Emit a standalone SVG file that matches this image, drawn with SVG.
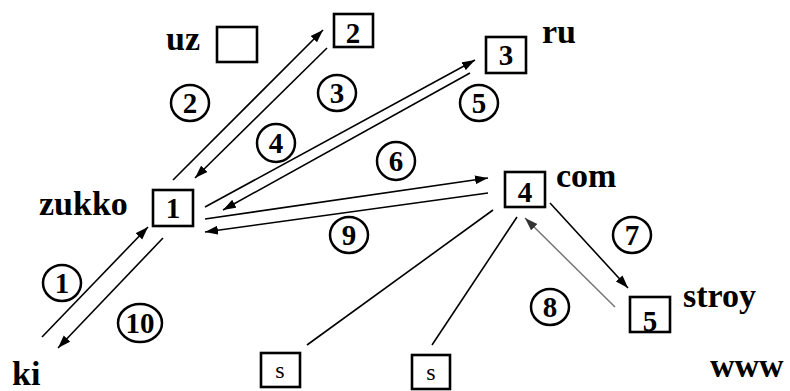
<svg xmlns="http://www.w3.org/2000/svg" width="790" height="391" viewBox="0 0 790 391" font-family="Liberation Serif, DejaVu Serif, serif">
<defs>
<style>
.box{fill:#fff;stroke:#000;stroke-width:2.6}
.lbl{font-weight:700;font-size:34px;fill:#000}
.num{font-weight:700;font-size:29px;fill:#000;text-anchor:middle}
.sm{font-size:24px;fill:#000;text-anchor:middle}
.circ{fill:none;stroke:#000;stroke-width:2.5}
.ln{stroke:#000;stroke-width:1.6;fill:none}
.arr{stroke:#000;stroke-width:1.6;fill:none;marker-end:url(#ah)}
.garr{stroke:#777;stroke-width:1.5;fill:none;marker-end:url(#gah)}
</style>
<marker id="ah" markerUnits="userSpaceOnUse" markerWidth="14" markerHeight="10" refX="13" refY="5" orient="auto"><path d="M0,0.5 L13,5 L0,9.5 Z" fill="#000"/></marker>
<marker id="gah" markerUnits="userSpaceOnUse" markerWidth="14" markerHeight="10" refX="13" refY="5" orient="auto"><path d="M0,0.5 L13,5 L0,9.5 Z" fill="#333"/></marker>
</defs>
<rect width="790" height="391" fill="#fff"/>
<g id="connectors">
<line class="arr" x1="42" y1="337" x2="148" y2="227"/>
<line class="arr" x1="163" y1="238" x2="58" y2="348"/>
<line class="arr" x1="173" y1="180" x2="323" y2="30"/>
<line class="arr" x1="327" y1="48" x2="195" y2="178"/>
<line class="arr" x1="205" y1="207" x2="475" y2="60"/>
<line class="arr" x1="470" y1="73" x2="223" y2="210"/>
<line class="arr" x1="205" y1="219" x2="488" y2="178"/>
<line class="arr" x1="488" y1="193" x2="205" y2="232"/>
<line class="arr" x1="550" y1="203" x2="628" y2="288"/>
<line class="garr" x1="615" y1="307" x2="525" y2="218"/>
<line class="ln" x1="307" y1="345" x2="493" y2="210"/>
<line class="ln" x1="432" y1="345" x2="517" y2="217"/>
</g>
<g id="node-uz"><rect class="box" x="217" y="27" width="40" height="35"/><text class="lbl" x="166" y="50">uz</text></g>
<g id="node-2"><rect class="box" x="334" y="14" width="39" height="33"/><text class="num" x="353" y="43">2</text></g>
<g id="node-3"><rect class="box" x="486" y="37" width="40" height="36"/><text class="num" x="506" y="65">3</text><text class="lbl" x="542" y="43">ru</text></g>
<g id="node-4"><rect class="box" x="505" y="172" width="40" height="35"/><text class="num" x="525" y="202">4</text><text class="lbl" x="556" y="187">com</text></g>
<g id="node-1"><rect class="box" x="153" y="190" width="40" height="36"/><text class="num" x="173" y="218">1</text><text class="lbl" x="39" y="215">zukko</text></g>
<g id="node-5"><rect class="box" x="630" y="297" width="40" height="35"/><text class="num" x="650" y="331">5</text><text class="lbl" x="683" y="307">stroy</text></g>
<g id="node-ki"><text class="lbl" x="12" y="385">ki</text></g>
<g id="node-www"><text class="lbl" x="710" y="377">www</text></g>
<g id="node-s1"><rect class="box" x="261" y="353" width="39" height="34"/><text class="sm" x="280" y="378">s</text></g>
<g id="node-s2"><rect class="box" x="412" y="355" width="38" height="34"/><text class="sm" x="431" y="380">s</text></g>
<g id="step-labels">
<g id="c1"><ellipse class="circ" cx="62" cy="283" rx="19" ry="18"/><text class="num" x="62" y="293">1</text></g>
<g id="c2"><ellipse class="circ" cx="190" cy="103" rx="19" ry="18"/><text class="num" x="190" y="113">2</text></g>
<g id="c3"><ellipse class="circ" cx="337" cy="93" rx="19" ry="18"/><text class="num" x="337" y="103">3</text></g>
<g id="c4"><ellipse class="circ" cx="276" cy="143" rx="19" ry="19"/><text class="num" x="276" y="153">4</text></g>
<g id="c5"><ellipse class="circ" cx="479" cy="103" rx="19" ry="18"/><text class="num" x="479" y="113">5</text></g>
<g id="c6"><ellipse class="circ" cx="396" cy="161" rx="19" ry="19"/><text class="num" x="396" y="171">6</text></g>
<g id="c7"><ellipse class="circ" cx="632" cy="235" rx="19" ry="18"/><text class="num" x="632" y="245">7</text></g>
<g id="c8"><ellipse class="circ" cx="550" cy="307" rx="19" ry="18"/><text class="num" x="550" y="317">8</text></g>
<g id="c9"><ellipse class="circ" cx="349" cy="235" rx="19" ry="18"/><text class="num" x="349" y="245">9</text></g>
<g id="c10"><ellipse class="circ" cx="140" cy="323" rx="22" ry="19"/><text class="num" x="140" y="333">10</text></g>
</g>
</svg>
